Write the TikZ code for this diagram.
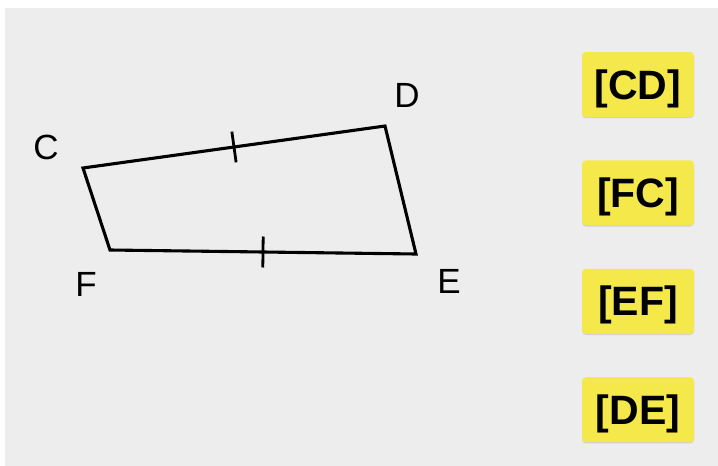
\documentclass[tikz,border=0pt]{standalone}
\usepackage{fontspec}
\setmainfont{Liberation Sans}
\usetikzlibrary{positioning,decorations.markings,shadows}
\definecolor{paper}{RGB}{237,237,237}
\definecolor{tagyellow}{RGB}{245,232,74}

\begin{document}
\begin{tikzpicture}[x=1pt,y=-1pt,
  side/.style={line width=3.1pt,line join=miter},
  tickmid/.style={postaction={decorate,decoration={markings,
        mark=at position .5 with {\draw[line width=2.8pt] (0,-15.5pt) -- (0,15.5pt);}}}},
  vlabel/.style={inner sep=0pt,text height=25pt,text depth=0pt,
        font=\fontsize{35}{35}\selectfont},
  tag/.style={fill=tagyellow,rounded corners=4pt,minimum width=112pt,
        minimum height=65pt,inner sep=0pt,text height=29pt,text depth=0pt,
        font=\bfseries\fontsize{41}{41}\selectfont,
        drop shadow={shadow xshift=0pt,shadow yshift=-1.2pt,opacity=.25,fill=black!50}}
  ]
  \fill[white] (0,0) rectangle (718,466);
  \fill[paper] (5,8) rectangle (718,466);
  \useasboundingbox (0,0) rectangle (718,466);

  % quadrilateral
  \coordinate (C) at (83,168);
  \coordinate (D) at (385,126);
  \coordinate (E) at (416,254);
  \coordinate (F) at (110,250);
  \draw[side] (C) -- (D) -- (E) -- (F) -- cycle;
  \path[tickmid] (C) -- (D);
  \path[tickmid] (F) -- (E);

  \node[vlabel] (labC) at (46,147) {C};
  \node[vlabel] (labD) at (407,95) {D};
  \node[vlabel] (labE) at (449,281) {E};
  \node[vlabel] (labF) at (86,284) {F};

  % answer tags
  \node[tag] (cd) at (638,84.5) {[CD]};
  \node[tag,below=43pt of cd] (fc) {[FC]};
  \node[tag,below=43pt of fc] (ef) {[EF]};
  \node[tag,below=43pt of ef] (de) {[DE]};
\end{tikzpicture}
\end{document}
